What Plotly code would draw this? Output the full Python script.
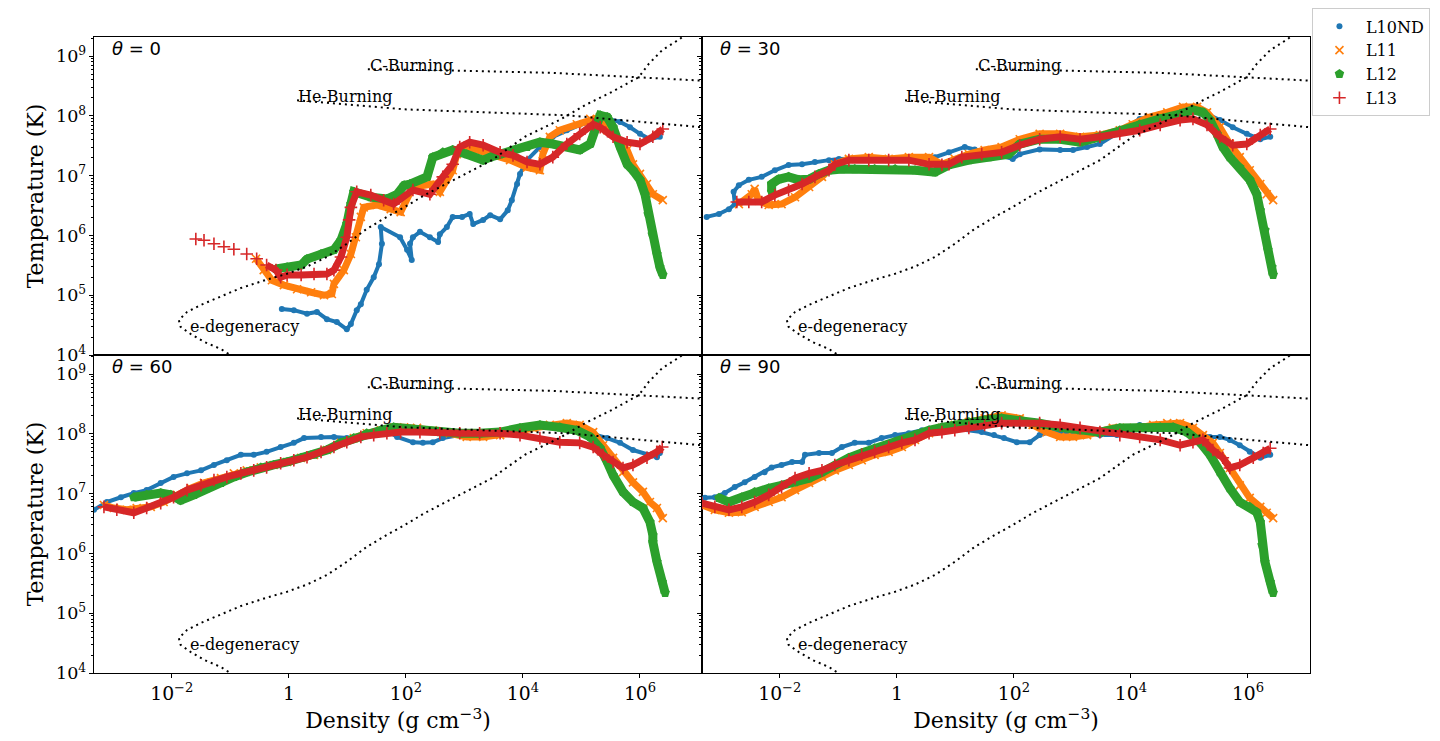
import numpy as np
import plotly.graph_objects as go
from plotly.subplots import make_subplots

# all values as log10(rho) / log10(T)

# theta = 0
t0_l10nd_lrho = [-0.12, 0.085, 0.31, 0.48, 0.65, 0.82, 0.99, 1.06, 1.16, 1.23, 1.33, 1.45, 1.54, 1.59, 1.57, 1.90, 2.02, 2.10, 2.07, 2.12, 2.24, 2.41, 2.55, 2.58, 2.70, 2.80, 2.96, 3.09, 3.15, 3.32, 3.44, 3.61, 3.74, 3.81, 3.90, 3.95, 4.07, 4.29, 4.51, 4.75, 4.97, 5.20, 5.44, 5.66, 5.83, 6.00, 6.17, 6.34]
t0_l10nd_lT = [4.77, 4.75, 4.69, 4.72, 4.60, 4.55, 4.43, 4.52, 4.75, 4.85, 5.09, 5.30, 5.52, 5.86, 6.14, 5.97, 5.76, 5.59, 5.86, 5.97, 6.06, 5.97, 5.89, 6.02, 6.14, 6.31, 6.31, 6.36, 6.19, 6.26, 6.34, 6.27, 6.42, 6.59, 6.86, 7.03, 7.26, 7.48, 7.65, 7.76, 7.85, 7.90, 7.95, 7.90, 7.81, 7.70, 7.61, 7.65]
t0_l11_lrho = [-0.56, -0.43, -0.29, -0.085, 0.14, 0.38, 0.60, 0.735, 0.77, 0.94, 1.06, 1.145, 1.23, 1.28, 1.50, 1.74, 1.91, 2.12, 2.46, 2.58, 2.80, 2.87, 3.04, 3.21, 3.49, 3.78, 4.07, 4.29, 4.34, 4.46, 4.63, 4.92, 5.15, 5.32, 5.44, 5.78, 5.88, 6.00, 6.12, 6.22, 6.39]
t0_l11_lT = [5.61, 5.42, 5.25, 5.17, 5.10, 5.05, 5.00, 5.02, 5.19, 5.42, 5.69, 5.97, 6.31, 6.47, 6.51, 6.44, 6.39, 6.81, 6.86, 6.73, 7.09, 7.36, 7.48, 7.43, 7.36, 7.26, 7.14, 7.09, 7.36, 7.65, 7.76, 7.86, 7.95, 7.98, 7.76, 7.43, 7.19, 7.03, 6.86, 6.69, 6.59]
t0_l12_lrho = [-0.22, -0.03, 0.21, 0.31, 0.55, 0.77, 0.89, 0.99, 1.06, 1.11, 1.40, 1.675, 1.85, 1.97, 2.07, 2.36, 2.46, 2.63, 2.80, 3.04, 3.32, 3.44, 3.61, 3.83, 4.07, 4.29, 4.51, 4.75, 4.97, 5.15, 5.23, 5.32, 5.44, 5.54, 5.66, 5.78, 5.88, 6.00, 6.085, 6.14, 6.21, 6.29, 6.34, 6.39]
t0_l12_lT = [5.44, 5.47, 5.505, 5.605, 5.69, 5.76, 5.92, 6.19, 6.525, 6.73, 6.64, 6.61, 6.69, 6.84, 6.86, 6.98, 7.31, 7.39, 7.43, 7.36, 7.26, 7.31, 7.36, 7.39, 7.48, 7.56, 7.53, 7.48, 7.43, 7.53, 7.76, 8.01, 7.98, 7.81, 7.48, 7.19, 7.09, 6.93, 6.69, 6.36, 6.02, 5.69, 5.47, 5.34]
t0_l13_lrho = [-1.59, -1.45, -1.28, -1.11, -0.94, -0.72, -0.55, -0.38, -0.22, -0.14, -0.03, 0.21, 0.43, 0.65, 0.77, 0.89, 0.99, 1.03, 1.06, 1.16, 1.40, 1.62, 1.79, 2.12, 2.41, 2.63, 2.80, 2.92, 3.09, 3.32, 3.61, 3.83, 4.07, 4.29, 4.51, 4.75, 4.97, 5.20, 5.32, 5.54, 5.78, 6.00, 6.22, 6.39]
t0_l13_lT = [5.94, 5.92, 5.86, 5.81, 5.77, 5.69, 5.61, 5.505, 5.42, 5.30, 5.34, 5.34, 5.355, 5.355, 5.42, 5.64, 5.97, 6.26, 6.47, 6.73, 6.675, 6.59, 6.525, 6.76, 6.69, 6.98, 7.19, 7.48, 7.56, 7.51, 7.39, 7.34, 7.23, 7.19, 7.31, 7.53, 7.70, 7.86, 7.81, 7.65, 7.56, 7.53, 7.65, 7.78]

# theta = 30
t30_l10nd_lrho = [-3.25, -3.04, -2.87, -2.77, -2.79, -2.70, -2.53, -2.31, -2.085, -1.85, -1.62, -1.40, -1.16, -0.99, -0.46, 0.05, 0.65, 0.89, 1.16, 1.33, 1.76, 1.98, 2.10, 2.44, 2.79, 3.01, 3.25, 3.47, 3.93, 4.15, 4.50, 4.79, 5.06, 5.30, 5.52, 5.74, 5.98, 6.21, 6.38]
t30_l10nd_lT = [6.31, 6.36, 6.44, 6.525, 6.73, 6.84, 6.93, 6.98, 7.09, 7.18, 7.19, 7.23, 7.26, 7.28, 7.29, 7.29, 7.31, 7.39, 7.48, 7.44, 7.34, 7.28, 7.36, 7.44, 7.43, 7.43, 7.48, 7.53, 7.81, 7.95, 8.03, 8.10, 8.11, 8.03, 7.93, 7.81, 7.70, 7.61, 7.65]
t30_l11_lrho = [-2.70, -2.48, -2.43, -2.36, -2.19, -1.97, -1.74, -1.50, -1.28, -1.06, -0.82, -0.48, -0.14, 0.205, 0.55, 0.77, 0.99, 1.23, 1.50, 1.79, 2.10, 2.44, 2.79, 3.13, 3.47, 3.81, 4.03, 4.32, 4.62, 4.89, 5.13, 5.30, 5.52, 5.69, 5.86, 6.03, 6.21, 6.32, 6.43]
t30_l11_lT = [6.525, 6.69, 6.78, 6.58, 6.51, 6.525, 6.64, 6.81, 6.98, 7.19, 7.28, 7.31, 7.28, 7.31, 7.31, 7.19, 7.28, 7.36, 7.43, 7.48, 7.61, 7.70, 7.70, 7.65, 7.68, 7.76, 7.86, 7.98, 8.06, 8.15, 8.15, 8.06, 7.81, 7.53, 7.31, 7.09, 6.86, 6.69, 6.59]
t30_l12_lrho = [-2.14, -2.14, -2.02, -1.85, -1.675, -1.50, -1.33, -1.16, -0.94, -0.72, -0.38, -0.03, 0.31, 0.65, 0.89, 1.23, 1.57, 1.91, 2.10, 2.44, 2.79, 3.13, 3.47, 3.81, 4.15, 4.50, 4.84, 5.06, 5.23, 5.35, 5.47, 5.57, 5.69, 5.86, 6.03, 6.15, 6.21, 6.29, 6.34, 6.41, 6.43]
t30_l12_lT = [6.73, 6.86, 6.94, 6.98, 6.93, 6.94, 7.03, 7.09, 7.11, 7.11, 7.11, 7.11, 7.09, 7.06, 7.18, 7.26, 7.31, 7.36, 7.53, 7.61, 7.61, 7.56, 7.65, 7.76, 7.86, 7.95, 8.03, 8.10, 8.06, 7.93, 7.70, 7.48, 7.31, 7.14, 6.93, 6.69, 6.42, 6.09, 5.76, 5.47, 5.34]
t30_l13_lrho = [-2.735, -2.53, -2.31, -2.085, -1.85, -1.62, -1.40, -1.16, -1.06, -0.82, -0.48, -0.14, 0.205, 0.55, 0.77, 0.89, 1.11, 1.45, 1.79, 2.10, 2.44, 2.79, 3.13, 3.47, 3.81, 4.15, 4.50, 4.84, 5.06, 5.30, 5.52, 5.74, 5.98, 6.21, 6.38]
t30_l13_lT = [6.56, 6.56, 6.56, 6.675, 6.76, 6.86, 6.98, 7.09, 7.19, 7.26, 7.26, 7.26, 7.26, 7.19, 7.18, 7.19, 7.31, 7.36, 7.39, 7.51, 7.61, 7.65, 7.61, 7.65, 7.70, 7.76, 7.85, 7.93, 7.95, 7.85, 7.65, 7.51, 7.53, 7.68, 7.78]

# theta = 60
t60_l10nd_lrho = [-3.33, -3.11, -2.87, -2.65, -2.43, -2.19, -1.97, -1.74, -1.50, -1.28, -1.06, -0.82, -0.60, -0.38, -0.14, 0.085, 0.26, 0.55, 0.77, 0.99, 1.23, 1.45, 1.675, 1.85, 2.12, 2.29, 2.46, 2.63, 2.87, 3.09, 3.38, 3.66, 3.95, 4.29, 4.58, 4.85, 5.15, 5.44, 5.66, 5.88, 6.12, 6.29, 6.34]
t60_l10nd_lT = [6.73, 6.86, 6.94, 7.01, 7.06, 7.18, 7.28, 7.34, 7.39, 7.48, 7.56, 7.65, 7.65, 7.70, 7.78, 7.85, 7.93, 7.95, 7.95, 7.93, 7.93, 7.98, 8.06, 7.95, 7.86, 7.85, 7.86, 7.93, 7.98, 8.01, 8.01, 8.01, 8.06, 8.15, 8.10, 8.06, 8.01, 7.93, 7.85, 7.73, 7.65, 7.61, 7.68]
t60_l11_lrho = [-3.16, -2.99, -2.77, -2.60, -2.36, -2.14, -1.91, -1.675, -1.45, -1.16, -0.94, -0.72, -0.48, -0.26, -0.03, 0.21, 0.43, 0.65, 0.89, 1.11, 1.33, 1.57, 1.79, 1.97, 2.19, 2.46, 2.75, 3.04, 3.32, 3.61, 3.90, 4.17, 4.46, 4.75, 4.97, 5.20, 5.37, 5.54, 5.71, 5.88, 6.05, 6.17, 6.29, 6.39]
t60_l11_lT = [6.81, 6.76, 6.73, 6.76, 6.78, 6.86, 6.98, 7.09, 7.18, 7.26, 7.34, 7.39, 7.44, 7.48, 7.53, 7.60, 7.65, 7.73, 7.85, 7.93, 8.01, 8.06, 8.11, 8.11, 8.10, 8.06, 8.01, 7.95, 7.95, 7.98, 8.03, 8.10, 8.15, 8.18, 8.15, 8.03, 7.81, 7.60, 7.36, 7.19, 7.03, 6.86, 6.76, 6.59]
t60_l12_lrho = [-2.65, -2.43, -2.19, -2.02, -1.85, -1.62, -1.40, -1.16, -0.94, -0.72, -0.48, -0.26, -0.03, 0.21, 0.43, 0.65, 0.89, 1.11, 1.33, 1.57, 1.79, 2.24, 2.58, 2.92, 3.26, 3.61, 3.95, 4.29, 4.63, 4.92, 5.15, 5.32, 5.44, 5.54, 5.71, 5.88, 6.05, 6.17, 6.22, 6.22, 6.29, 6.38, 6.43]
t60_l12_lT = [6.94, 6.98, 7.01, 6.98, 6.89, 6.98, 7.09, 7.18, 7.28, 7.36, 7.44, 7.48, 7.53, 7.60, 7.65, 7.73, 7.85, 7.93, 8.01, 8.06, 8.11, 8.06, 8.03, 8.01, 8.01, 8.03, 8.10, 8.15, 8.11, 8.06, 7.95, 7.76, 7.53, 7.31, 7.03, 6.86, 6.76, 6.525, 6.31, 6.19, 5.86, 5.52, 5.34]
t60_l13_lrho = [-3.16, -2.94, -2.65, -2.43, -2.19, -1.97, -1.74, -1.50, -1.28, -1.06, -0.82, -0.60, -0.38, -0.14, 0.085, 0.31, 0.55, 0.77, 0.99, 1.23, 1.45, 1.675, 1.91, 2.24, 2.58, 2.92, 3.26, 3.61, 3.95, 4.29, 4.63, 4.97, 5.20, 5.37, 5.54, 5.71, 5.88, 6.12, 6.29, 6.38]
t60_l13_lT = [6.78, 6.73, 6.68, 6.76, 6.84, 6.94, 7.06, 7.14, 7.23, 7.28, 7.34, 7.39, 7.44, 7.51, 7.56, 7.61, 7.70, 7.78, 7.86, 7.95, 7.98, 8.01, 8.03, 8.03, 8.01, 8.01, 8.01, 8.01, 7.98, 7.93, 7.86, 7.85, 7.78, 7.65, 7.53, 7.43, 7.48, 7.60, 7.70, 7.78]

# theta = 90
t90_l10nd_lrho = [-3.28, -3.11, -2.94, -2.77, -2.60, -2.43, -2.26, -2.14, -1.97, -1.79, -1.62, -1.57, -1.33, -1.11, -0.94, -0.72, -0.48, -0.26, -0.03, 0.205, 0.43, 0.91, 1.45, 1.66, 1.83, 2.05, 2.27, 2.44, 2.62, 3.04, 3.47, 3.76, 4.15, 4.38, 4.72, 5.06, 5.35, 5.52, 5.69, 5.86, 6.03, 6.21, 6.38]
t90_l10nd_lT = [6.93, 6.94, 7.01, 7.11, 7.19, 7.28, 7.36, 7.44, 7.48, 7.53, 7.53, 7.65, 7.68, 7.68, 7.78, 7.85, 7.85, 7.93, 7.98, 8.01, 8.06, 8.10, 8.03, 7.98, 7.93, 7.86, 7.86, 7.98, 8.03, 8.03, 7.98, 7.98, 8.15, 8.15, 8.10, 8.03, 7.95, 7.95, 7.90, 7.81, 7.70, 7.60, 7.65]
t90_l11_lrho = [-3.33, -3.11, -2.87, -2.65, -2.43, -2.19, -1.97, -1.74, -1.50, -1.28, -1.06, -0.82, -0.60, -0.38, -0.14, 0.085, 0.31, 0.55, 0.77, 0.99, 1.23, 1.50, 1.79, 2.10, 2.32, 2.56, 2.79, 3.01, 3.25, 3.47, 3.69, 3.93, 4.15, 4.38, 4.62, 4.84, 5.06, 5.23, 5.40, 5.52, 5.69, 5.86, 6.03, 6.21, 6.32, 6.43]
t90_l11_lT = [6.81, 6.73, 6.68, 6.69, 6.78, 6.86, 6.94, 7.06, 7.18, 7.28, 7.39, 7.48, 7.56, 7.65, 7.70, 7.78, 7.90, 8.01, 8.10, 8.15, 8.20, 8.26, 8.31, 8.26, 8.15, 8.03, 7.95, 7.95, 7.98, 8.03, 8.10, 8.10, 8.10, 8.15, 8.18, 8.18, 8.10, 7.98, 7.85, 7.68, 7.43, 7.14, 6.93, 6.78, 6.68, 6.59]
t90_l12_lrho = [-3.04, -2.87, -2.65, -2.43, -2.19, -1.97, -1.74, -1.50, -1.28, -1.06, -0.82, -0.60, -0.38, -0.14, 0.085, 0.31, 0.55, 0.77, 0.99, 1.23, 1.50, 1.79, 2.10, 2.44, 2.79, 3.13, 3.47, 3.81, 4.15, 4.50, 4.72, 4.96, 5.18, 5.35, 5.52, 5.69, 5.86, 6.03, 6.15, 6.21, 6.24, 6.29, 6.38, 6.43]
t90_l12_lT = [6.93, 6.86, 6.94, 7.03, 7.09, 7.14, 7.19, 7.26, 7.36, 7.48, 7.60, 7.68, 7.76, 7.81, 7.90, 7.98, 8.06, 8.11, 8.15, 8.20, 8.23, 8.26, 8.23, 8.18, 8.11, 8.06, 8.03, 8.10, 8.11, 8.11, 8.11, 8.03, 7.86, 7.65, 7.36, 7.09, 6.86, 6.78, 6.69, 6.525, 6.14, 5.86, 5.52, 5.34]
t90_l13_lrho = [-3.33, -3.11, -2.87, -2.65, -2.43, -2.19, -1.97, -1.74, -1.50, -1.28, -1.06, -0.82, -0.60, -0.38, -0.14, 0.085, 0.31, 0.55, 0.77, 0.99, 1.23, 1.50, 1.79, 2.10, 2.44, 2.79, 3.13, 3.47, 3.81, 4.15, 4.50, 4.84, 5.06, 5.23, 5.40, 5.57, 5.69, 5.86, 6.09, 6.26, 6.38]
t90_l13_lT = [6.84, 6.78, 6.73, 6.78, 6.86, 6.98, 7.11, 7.26, 7.34, 7.39, 7.48, 7.56, 7.65, 7.70, 7.78, 7.85, 7.90, 8.01, 8.03, 8.06, 8.10, 8.15, 8.18, 8.18, 8.18, 8.15, 8.10, 8.03, 7.98, 7.95, 7.90, 7.81, 7.86, 7.90, 7.73, 7.60, 7.43, 7.48, 7.60, 7.68, 7.76]

# reference curves (same in every panel)
edeg_lrho = [-0.6, -0.94, -1.16, -1.45, -1.675, -1.85, -1.88, -1.74, -1.50, -1.16, -0.82, -0.38, -0.03, 0.31, 0.65, 0.99, 1.33, 1.675, 1.97, 2.32, 2.91, 3.47, 4.03, 4.62, 5.06, 5.52, 5.98, 6.15, 6.38, 6.67, 6.9]
edeg_lT = [3.75, 3.97, 4.10, 4.22, 4.35, 4.47, 4.585, 4.72, 4.84, 4.98, 5.12, 5.26, 5.36, 5.48, 5.64, 5.86, 6.11, 6.31, 6.47, 6.675, 6.98, 7.26, 7.65, 7.93, 8.18, 8.40, 8.65, 8.87, 9.10, 9.28, 9.45]
he_lrho = [0.14, 1.97, 4.75, 6.0, 7.06]
he_lT = [8.26, 8.11, 8.01, 7.90, 7.81]
c_lrho = [1.35, 2.75, 4.5, 5.9, 7.06]
c_lT = [8.78, 8.76, 8.72, 8.65, 8.59]

angles = [0, 30, 60, 90]
models = ['L10ND', 'L11', 'L12', 'L13']
panels = {
    0: [(t0_l10nd_lrho, t0_l10nd_lT), (t0_l11_lrho, t0_l11_lT), (t0_l12_lrho, t0_l12_lT), (t0_l13_lrho, t0_l13_lT)],
    30: [(t30_l10nd_lrho, t30_l10nd_lT), (t30_l11_lrho, t30_l11_lT), (t30_l12_lrho, t30_l12_lT), (t30_l13_lrho, t30_l13_lT)],
    60: [(t60_l10nd_lrho, t60_l10nd_lT), (t60_l11_lrho, t60_l11_lT), (t60_l12_lrho, t60_l12_lT), (t60_l13_lrho, t60_l13_lT)],
    90: [(t90_l10nd_lrho, t90_l10nd_lT), (t90_l11_lrho, t90_l11_lT), (t90_l12_lrho, t90_l12_lT), (t90_l13_lrho, t90_l13_lT)],
}
# red crosses at the low-density end of theta=0 are isolated markers
line_start = {(0, 'L13'): 7}

colors = ['#1f77b4', '#ff7f0e', '#2ca02c', '#d62728']
symbols = ['circle', 'x-thin', 'pentagon', 'cross-thin']
msizes = [6, 8, 10, 9]
lwidths = [4, 7, 9, 7]

SERIF = 'DejaVu Serif'

fig = make_subplots(rows=2, cols=2, shared_xaxes=True, shared_yaxes=True,
                    horizontal_spacing=0, vertical_spacing=0)

pos = {0: (1, 1), 30: (1, 2), 60: (2, 1), 90: (2, 2)}

for ang in angles:
    r, c = pos[ang]
    for i, (lrho, lT) in enumerate(panels[ang]):
        rho = 10 ** np.array(lrho)
        T = 10 ** np.array(lT)
        s = line_start.get((ang, models[i]), 0)
        fig.add_trace(go.Scatter(x=rho[s:], y=T[s:], mode='lines', hoverinfo='skip',
                                 line=dict(color=colors[i], width=lwidths[i]),
                                 showlegend=False), row=r, col=c)
        mk = dict(color=colors[i], size=msizes[i], symbol=symbols[i])
        if 'thin' in symbols[i]:
            mk['line'] = dict(color=colors[i], width=1.6)
        fig.add_trace(go.Scatter(x=rho, y=T, mode='markers', name=models[i], marker=mk,
                                 showlegend=(ang == 0)), row=r, col=c)
    for lx, ly in [(edeg_lrho, edeg_lT), (he_lrho, he_lT), (c_lrho, c_lT)]:
        fig.add_trace(go.Scatter(x=10 ** np.array(lx), y=10 ** np.array(ly), mode='lines',
                                 line=dict(color='black', width=2, dash='2px,4px'),
                                 showlegend=False, hoverinfo='skip'), row=r, col=c)

# text labels
axn = {0: ('x', 'y'), 30: ('x2', 'y2'), 60: ('x3', 'y3'), 90: ('x4', 'y4')}
for ang in angles:
    xa, ya = axn[ang]
    for txt, lx, ly in [('C-Burning', 1.35, 8.85), ('He-Burning', 0.12, 8.33), ('e-degeneracy', -1.73, 4.47)]:
        fig.add_annotation(x=lx, y=ly, xref=xa, yref=ya, text=txt, showarrow=False,
                           xanchor='left', yanchor='middle', font=dict(family=SERIF, size=16, color='black'))
    fig.add_annotation(x=0.027, y=0.965, xref=xa + ' domain', yref=ya + ' domain',
                       text='<i>θ</i> = %d' % ang, showarrow=False, xanchor='left', yanchor='middle',
                       font=dict(family='DejaVu Sans', size=18, color='black'))

fig.update_xaxes(type='log', range=[-3.33, 7.06], dtick=2, tick0=0, exponentformat='power',
                 showline=True, linecolor='black', linewidth=1.2, mirror=True, automargin=False,
                 showgrid=False, zeroline=False, ticks='outside', ticklen=4, tickcolor='black',
                 tickfont=dict(family=SERIF, size=15, color='black'))
fig.update_xaxes(ticks='', row=1)
fig.update_yaxes(type='log', range=[4, 9.32], dtick=1, exponentformat='power',
                 showline=True, linecolor='black', linewidth=1.2, mirror=True, automargin=False,
                 showgrid=False, zeroline=False, ticks='outside', ticklen=4, tickcolor='black',
                 minor=dict(ticks='outside', ticklen=2, tickcolor='black', dtick='D1'),
                 tickfont=dict(family=SERIF, size=14, color='black'))
for cc in [1, 2]:
    fig.update_xaxes(title=dict(text='Density (g cm<sup>−3</sup>)', font=dict(family=SERIF, size=22, color='black')),
                     row=2, col=cc)
for rr in [1, 2]:
    fig.update_yaxes(title=dict(text='Temperature (K)', standoff=6,
                                font=dict(family=SERIF, size=22, color='black')),
                     row=rr, col=1)

# page body adds an 8px margin, so the figure is 16px smaller than the window
fig.update_layout(
    width=1424, height=725,
    margin=dict(l=86, r=122, t=29, b=60, autoexpand=False),
    plot_bgcolor='white', paper_bgcolor='white',
    font=dict(family=SERIF, color='black'),
    legend=dict(x=1.0016, y=1.045, xanchor='left', yanchor='top', itemwidth=43,
                bordercolor='#cccccc', borderwidth=1, bgcolor='white',
                font=dict(family=SERIF, size=16, color='black')),
)

fig.write_html('out.html')
